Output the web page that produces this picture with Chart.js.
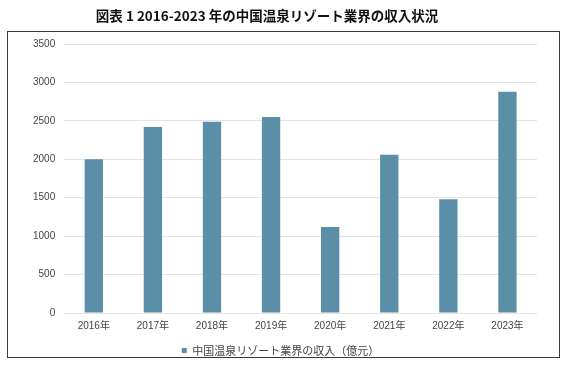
<!DOCTYPE html>
<html>
<head>
<meta charset="utf-8">
<script src="https://cdn.jsdelivr.net/npm/chart.js@4/dist/chart.umd.min.js"></script>
<style>
  html, body { margin: 0; padding: 0; background: #fff; }
  #wrap { width: 572px; height: 366px; }
</style>
</head>
<body>
<div id="wrap"><canvas id="revenueChart" width="572" height="366"></canvas></div>
<script>
// data
const years = ['2016年', '2017年', '2018年', '2019年', '2020年', '2021年', '2022年', '2023年'];
const revenue = [2000, 2420, 2490, 2550, 1120, 2060, 1480, 2880];
const yMax = 3500;
const yStep = 500;
const seriesName = '中国温泉リゾート業界の収入（億元）';
const chartTitle = '図表 1 2016-2023 年の中国温泉リゾート業界の収入状況';

const barColor = '#5b8fa7';
const latinFont = "'Liberation Sans', 'Noto Sans CJK JP', sans-serif";

// frame round the plot, title above it (the title sits a bit left of centre)
const framePlugin = {
    id: 'frame',
    beforeDraw(chart) {
        const c = chart.ctx;
        c.save();
        c.fillStyle = '#fff';
        c.fillRect(0, 0, chart.width, chart.height);
        c.strokeStyle = '#3a3a3a';
        c.lineWidth = 1;
        c.strokeRect(7.5, 31.5, 552, 326);
        c.fillStyle = '#111';
        c.font = "bold 13.5px 'Noto Sans CJK JP', sans-serif";
        c.textAlign = 'center';
        c.textBaseline = 'middle';
        c.fillText(chartTitle, 267, 16);
        c.restore();
    }
};

const ctx = document.getElementById('revenueChart').getContext('2d');
const revenueChart = new Chart(ctx, {
    type: 'bar',
    data: {
        labels: years,
        datasets: [{
            label: seriesName,
            data: revenue,
            backgroundColor: barColor,
            barPercentage: 0.62,
            categoryPercentage: 0.5
        }]
    },
    options: {
        responsive: false,
        animation: false,
        layout: {
            padding: { left: 24, right: 35, top: 44, bottom: 0 }
        },
        plugins: {
            title: { display: false },
            legend: {
                position: 'bottom',
                labels: {
                    color: '#444',
                    font: { family: "'Noto Sans CJK JP', sans-serif", size: 11 },
                    boxWidth: 5,
                    boxHeight: 5,
                    padding: 2
                }
            },
            tooltip: { enabled: false }
        },
        scales: {
            x: {
                grid: { display: false, drawTicks: false },
                border: { display: false },
                ticks: {
                    color: '#444',
                    font: { family: latinFont, size: 10 },
                    padding: 7
                },
                afterFit(scale) { scale.height += 4; }
            },
            y: {
                min: 0,
                max: yMax,
                grid: { color: '#e4e4e4', drawTicks: false },
                border: { display: false },
                ticks: {
                    stepSize: yStep,
                    color: '#444',
                    font: { family: latinFont, size: 10 },
                    padding: 9,
                    callback: v => String(v)
                }
            }
        }
    },
    plugins: [framePlugin]
});
</script>
</body>
</html>
